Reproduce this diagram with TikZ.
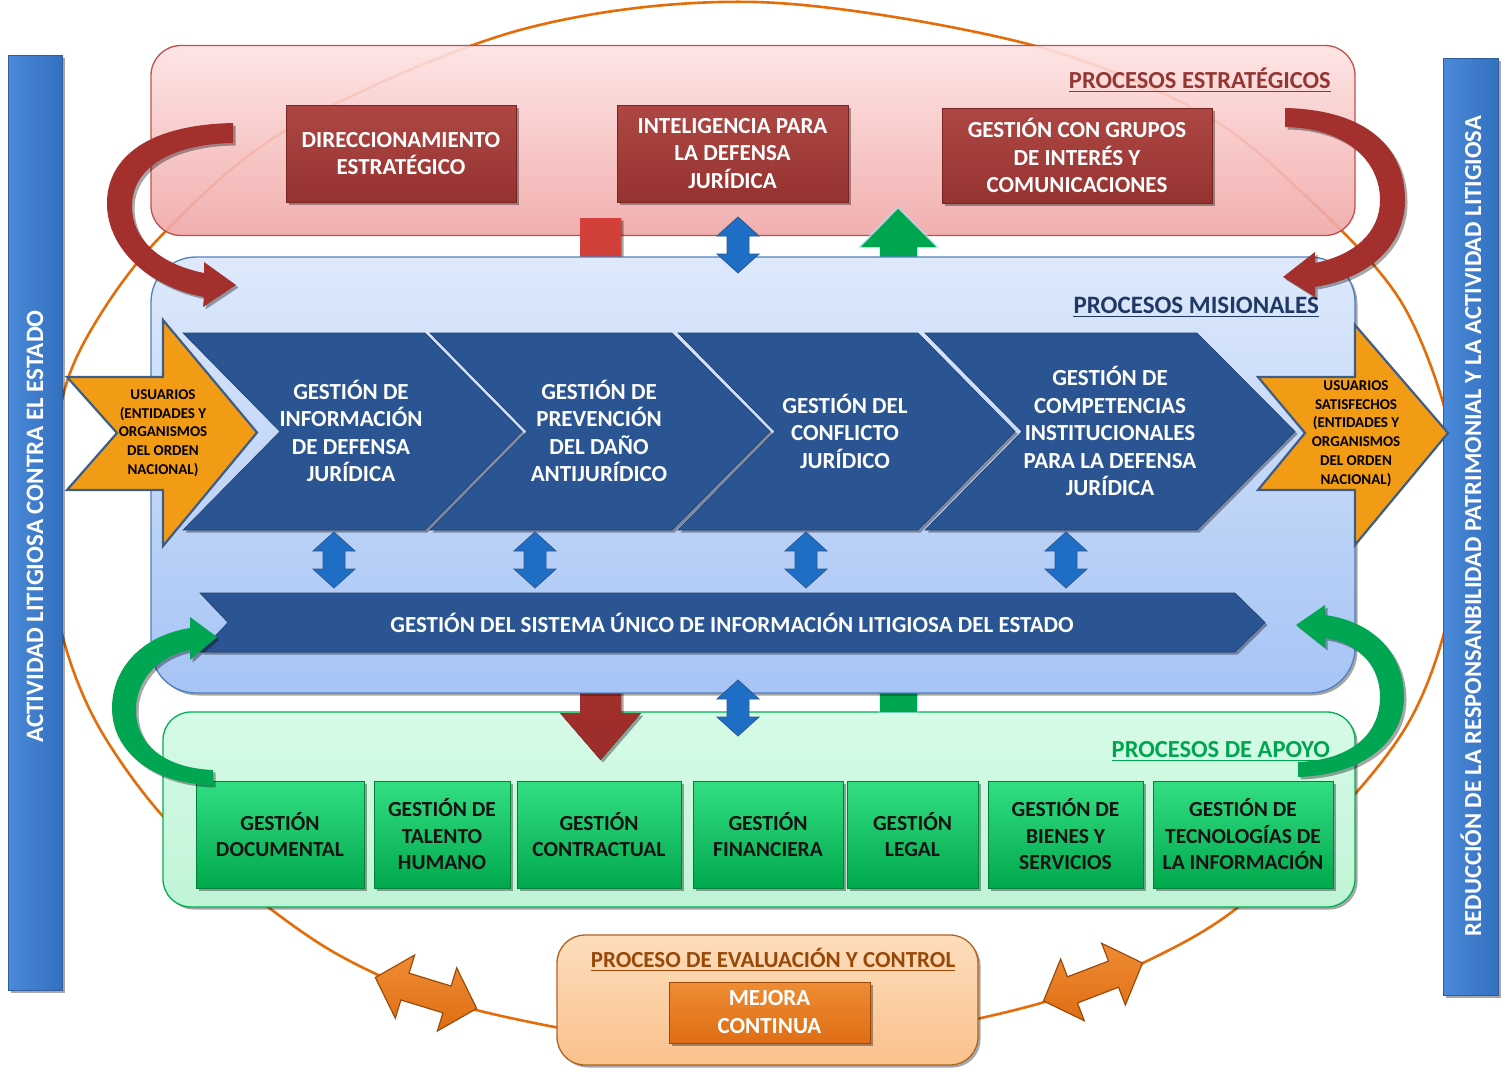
\documentclass[tikz,border=0pt]{standalone}
\usepackage{fontspec}
\setmainfont{Carlito}
\usetikzlibrary{shadows}

\definecolor{orbit}{HTML}{E46C0A}
\definecolor{barblueL}{HTML}{4A8AD8}
\definecolor{barblueR}{HTML}{3470C0}
\definecolor{baredge}{HTML}{2E5E9C}
\definecolor{pinkT}{HTML}{FEE2E2}
\definecolor{pinkB}{HTML}{F0A6A6}
\definecolor{pinkedge}{HTML}{C0504D}
\definecolor{skyT}{HTML}{DEE9FB}
\definecolor{skyB}{HTML}{A6C4F5}
\definecolor{skyedge}{HTML}{4F7FBD}
\definecolor{mintT}{HTML}{D6FBE7}
\definecolor{mintB}{HTML}{C0F4D6}
\definecolor{mintedge}{HTML}{00B050}
\definecolor{wineT}{HTML}{AE4744}
\definecolor{wineB}{HTML}{953330}
\definecolor{wineedge}{HTML}{7A2422}
\definecolor{navy}{HTML}{2B5592}
\definecolor{navyedge}{HTML}{1E3F70}
\definecolor{leafT}{HTML}{33DE82}
\definecolor{leafB}{HTML}{00A84C}
\definecolor{leafedge}{HTML}{00803A}
\definecolor{peachT}{HTML}{FDDDBC}
\definecolor{peachB}{HTML}{FAC18D}
\definecolor{peachedge}{HTML}{B0641E}
\definecolor{pumpT}{HTML}{EF8C34}
\definecolor{pumpB}{HTML}{DE6E14}
\definecolor{pumpedge}{HTML}{9C4A0C}
\definecolor{amber}{HTML}{F29B14}
\definecolor{amberedge}{HTML}{3D5D88}
\definecolor{linkblue}{HTML}{1F6EC6}
\definecolor{linkedge}{HTML}{2B5A92}
\definecolor{curvered}{HTML}{A3302D}
\definecolor{curvegreen}{HTML}{00A651}
\definecolor{shaftredT}{HTML}{D3403A}
\definecolor{shaftredB}{HTML}{9B2D2A}
\definecolor{ttlred}{HTML}{943634}
\definecolor{ttlnavy}{HTML}{1F3864}
\definecolor{ttlgreen}{HTML}{00A550}
\definecolor{ttlbrown}{HTML}{984807}

\newcommand{\pxfont}[2]{\fontsize{#1}{#2}\selectfont}

\tikzset{
  pics/updown/.style={code={
    \draw[linkedge, line width=0.8pt, fill=linkblue]
      (0,0) -- (21,19) -- (11,19) -- (11,37) -- (21,37) -- (0,56)
      -- (-21,37) -- (-11,37) -- (-11,19) -- (-21,19) -- cycle;}},
  pics/twoway/.style={code={
    \draw[pumpedge, line width=1.2pt, top color=pumpT, bottom color=pumpB]
      (-53,0) -- (-22,-33) -- (-22,-14) -- (22,-14) -- (22,-33) -- (53,0)
      -- (22,33) -- (22,14) -- (-22,14) -- (-22,33) -- cycle;}}
}

\begin{document}
\begin{tikzpicture}[x=1pt,y=-1pt,
  shade3d/.style={drop shadow={shadow xshift=2.5pt,shadow yshift=-2.5pt,opacity=0.35,fill=black}},
  panel/.style={line width=1.3pt, inner sep=0pt, outer sep=0pt},
  wine/.style={shade3d, top color=wineT, bottom color=wineB, draw=wineedge,
    line width=0.6pt, inner sep=0pt, text=white, align=center,
    font=\bfseries\pxfont{23}{27.5}},
  whitebold/.style={text=white, align=center, inner sep=0pt, font=\bfseries\pxfont{23}{27.5}},
  chevron/.style={shade3d, fill=navy, draw=navyedge, line width=0.6pt},
  leafbox/.style={shade3d, top color=leafT, bottom color=leafB, draw=leafedge,
    line width=0.6pt, minimum height=107pt, inner sep=0pt, text=black!92,
    align=center, font=\bfseries\pxfont{21.5}{26.5}},
  ttl/.style={inner sep=0pt, font=\bfseries\pxfont{24.5}{30}},
  usertext/.style={align=center, inner sep=0pt, text=black, font=\bfseries\pxfont{15}{18.7}},
  bartext/.style={rotate=90, text=white, inner sep=0pt, font=\bfseries\pxfont{25}{30}},
]
\useasboundingbox (0,0) rectangle (1510,1079);

% orbit behind all panels
\draw[orbit, line width=2.6pt] plot[smooth cycle, tension=0.55] coordinates {
  (755,2) (1020,42) (1200,112) (1310,200) (1400,300) (1448,420) (1458,520)
  (1446,625) (1410,720) (1345,805) (1237,908) (1145,962) (1041,1003)
  (900,1033) (767,1040) (620,1036) (520,1020) (426,995) (330,950) (240,885)
  (160,813) (95,720) (60,625) (52,520) (62,400) (97,320) (165,232) (290,128) (520,30)};

% side bars
\node[shade3d, panel, line width=0.6pt, draw=baredge, left color=barblueL, right color=barblueR,
  minimum width=54pt, minimum height=935pt] (lbar) at (35,522.5) {};
\node[bartext] (ltext) at (35,526.5) {ACTIVIDAD LITIGIOSA CONTRA EL ESTADO};
\node[shade3d, panel, line width=0.6pt, draw=baredge, left color=barblueL, right color=barblueR,
  minimum width=55pt, minimum height=937pt] (rbar) at (1470.5,526.5) {};
\node[bartext, font=\bfseries\pxfont{24.5}{30}] (rtext) at (1471,526)
  {REDUCCIÓN DE LA RESPONSANBILIDAD PATRIMONIAL Y LA ACTIVIDAD LITIGIOSA};

% strategic and support panels
\node[panel, draw=pinkedge, top color=pinkT, bottom color=pinkB, fill opacity=0.9,
  rounded corners=30pt, minimum width=1204pt, minimum height=190pt] (estr) at (753,140.5) {};
\node[shade3d, panel, draw=mintedge, top color=mintT, bottom color=mintB,
  rounded corners=28pt, minimum width=1192pt, minimum height=195pt] (apoyo) at (759,809.5) {};

% straight links that pass behind the mission panel
\fill[top color=shaftredT, bottom color=shaftredB, shade3d]
  (580,218) -- (621,218) -- (621,713) -- (641,713) -- (600.5,760) -- (560,713) -- (580,713) -- cycle;
\draw[cyan!30, line width=2.5pt, opacity=0.6, fill=ttlgreen]
  (898,208) -- (937,247) -- (917,247) -- (917,712) -- (880,712) -- (880,247) -- (860,247) -- cycle;
\fill[ttlgreen] (898,209) -- (936,247) -- (917,247) -- (917,712) -- (880,712) -- (880,247) -- (861,247) -- cycle;

% mission panel
\node[shade3d, panel, draw=skyedge, top color=skyT, bottom color=skyB,
  rounded corners=45pt, minimum width=1204pt, minimum height=436pt] (mision) at (753,475) {};

% titles
\node[ttl, text=ttlred, anchor=base east] (tstrat) at (1331,88) {PROCESOS ESTRATÉGICOS};
\draw[ttlred, line width=1.6pt] ([yshift=-3.5pt]tstrat.base west) -- ([yshift=-3.5pt]tstrat.base east);
\node[ttl, text=ttlnavy, anchor=base east, font=\bfseries\pxfont{25}{30}] (tmis) at (1319,313) {PROCESOS MISIONALES};
\draw[ttlnavy, line width=1.6pt] ([yshift=-3.5pt]tmis.base west) -- ([yshift=-3.5pt]tmis.base east);
\node[ttl, text=ttlgreen, anchor=base east] (tapo) at (1330,757) {PROCESOS DE APOYO};
\draw[ttlgreen, line width=1.6pt] ([yshift=-3.5pt]tapo.base west) -- ([yshift=-3.5pt]tapo.base east);

% strategic processes
\node[wine, minimum width=230pt, minimum height=97pt] (dir) at (401,153.5)
  {DIRECCIONAMIENTO\\ESTRATÉGICO};
\node[wine, minimum width=231pt, minimum height=97pt] (intel) at (732.5,153.5)
  {INTELIGENCIA PARA\\LA DEFENSA\\JURÍDICA};
\node[wine, minimum width=270pt, minimum height=95pt] (grupos) at (1077,155.5)
  {GESTIÓN CON GRUPOS\\DE INTERÉS Y\\COMUNICACIONES};

% links between panels
\pic at (738,217) {updown};
\pic at (738,680) {updown};

% mission chevrons
\fill[chevron] (183,333) -- (425,333) -- (522,431.5) -- (425,530) -- (183,530) -- (280,431.5) -- cycle;
\fill[chevron] (430,333) -- (672,333) -- (770,431.5) -- (672,530) -- (430,530) -- (527,431.5) -- cycle;
\fill[chevron] (678,333) -- (918,333) -- (1015,431.5) -- (918,530) -- (678,530) -- (775,431.5) -- cycle;
\fill[chevron] (925,333) -- (1197,333) -- (1295,431.5) -- (1197,530) -- (925,530) -- (1022,431.5) -- cycle;
\node[whitebold] (m1) at (351,431) {GESTIÓN DE\\INFORMACIÓN\\DE DEFENSA\\JURÍDICA};
\node[whitebold] (m2) at (599,431) {GESTIÓN DE\\PREVENCIÓN\\DEL DAÑO\\ANTIJURÍDICO};
\node[whitebold] (m3) at (845,431) {GESTIÓN DEL\\CONFLICTO\\JURÍDICO};
\node[whitebold] (m4) at (1110,431) {GESTIÓN DE\\COMPETENCIAS\\INSTITUCIONALES\\PARA LA DEFENSA\\JURÍDICA};

\pic at (334,532) {updown};
\pic at (535,532) {updown};
\pic at (806,532) {updown};
\pic at (1066,532) {updown};

% information system band
\fill[chevron] (200,593) -- (1235,593) -- (1265,622.5) -- (1235,652) -- (200,652) -- (228,622.5) -- cycle;
\node[whitebold] (sis) at (732,623) {GESTIÓN DEL SISTEMA ÚNICO DE INFORMACIÓN LITIGIOSA DEL ESTADO};

% support processes
\node[leafbox, minimum width=168pt] (s1) at (280,834.5) {GESTIÓN\\DOCUMENTAL};
\node[leafbox, minimum width=136pt] (s2) at (442,834.5) {GESTIÓN DE\\TALENTO\\HUMANO};
\node[leafbox, minimum width=164pt] (s3) at (599,834.5) {GESTIÓN\\CONTRACTUAL};
\node[leafbox, minimum width=150pt] (s4) at (768,834.5) {GESTIÓN\\FINANCIERA};
\node[leafbox, minimum width=131pt] (s5) at (912.5,834.5) {GESTIÓN\\LEGAL};
\node[leafbox, minimum width=155pt] (s6) at (1065.5,834.5) {GESTIÓN DE\\BIENES Y\\SERVICIOS};
\node[leafbox, minimum width=180pt] (s7) at (1243,834.5) {GESTIÓN DE\\TECNOLOGÍAS DE\\LA INFORMACIÓN};

% evaluation and control
\node[shade3d, panel, draw=peachedge, top color=peachT, bottom color=peachB,
  rounded corners=28pt, minimum width=421pt, minimum height=130pt] (eval) at (767.5,1000) {};
\node[ttl, text=ttlbrown, anchor=base, font=\bfseries\pxfont{23}{28}] (teval) at (773,967) {PROCESO DE EVALUACIÓN Y CONTROL};
\draw[ttlbrown, line width=1.6pt] ([yshift=-3.5pt]teval.base west) -- ([yshift=-3.5pt]teval.base east);
\node[shade3d, top color=pumpT, bottom color=pumpB, draw=pumpedge, line width=0.8pt,
  minimum width=201pt, minimum height=61pt, inner sep=0pt, text=white, align=center,
  font=\bfseries\pxfont{23}{28}] (mejora) at (769.5,1012.5) {MEJORA\\CONTINUA};

\pic[rotate=-17] at (426,993) {twoway};
\pic[rotate=21] at (1093,982) {twoway};

% curved feedback arrows
\fill[curvered, shade3d]
  (233,123) .. controls (140,125) and (106,163) .. (107,205)
  .. controls (108,250) and (150,287) .. (204,297)
  -- (203,307) -- (236,285) -- (204,262) -- (204,273)
  .. controls (160,264) and (132,240) .. (132,206)
  .. controls (132,170) and (168,144) .. (233,143) -- cycle;
\fill[curvered, shade3d]
  (1285,108) .. controls (1370,110) and (1405,150) .. (1405,200)
  .. controls (1405,245) and (1370,278) .. (1315,287)
  -- (1315,297) -- (1283,277) -- (1315,252) -- (1315,263)
  .. controls (1355,255) and (1380,232) .. (1380,200)
  .. controls (1380,160) and (1345,128) .. (1285,127) -- cycle;
\fill[curvegreen, shade3d]
  (190,628) .. controls (140,636) and (112,670) .. (112,708)
  .. controls (112,750) and (150,784) .. (213,785)
  -- (213,770) .. controls (165,768) and (136,745) .. (136,710)
  .. controls (136,680) and (158,656) .. (190,650)
  -- (190,660) -- (217,637) -- (190,617) -- cycle;
\fill[curvegreen, shade3d]
  (1325,615) .. controls (1375,622) and (1404,655) .. (1404,697)
  .. controls (1404,740) and (1365,775) .. (1298,777)
  -- (1298,762) .. controls (1350,760) and (1380,735) .. (1380,697)
  .. controls (1380,665) and (1358,643) .. (1325,638)
  -- (1325,648) -- (1296,625) -- (1325,605) -- cycle;

% users entering and leaving
\draw[amberedge, line width=2.2pt, fill=amber, line join=miter]
  (67,377) -- (163,377) -- (163,320) -- (257,432.5) -- (163,546) -- (163,490) -- (67,490) -- (117,433) -- cycle;
\node[usertext] (uin) at (163,433) {USUARIOS\\(ENTIDADES Y\\ORGANISMOS\\DEL ORDEN\\NACIONAL)};
\draw[amberedge, line width=2.2pt, fill=amber, line join=miter]
  (1258,377) -- (1355,377) -- (1355,325) -- (1448,433) -- (1355,545) -- (1355,490) -- (1258,490) -- (1305,433) -- cycle;
\node[usertext] (uout) at (1356,433.5) {USUARIOS\\SATISFECHOS\\(ENTIDADES Y\\ORGANISMOS\\DEL ORDEN\\NACIONAL)};
\end{tikzpicture}
\end{document}
